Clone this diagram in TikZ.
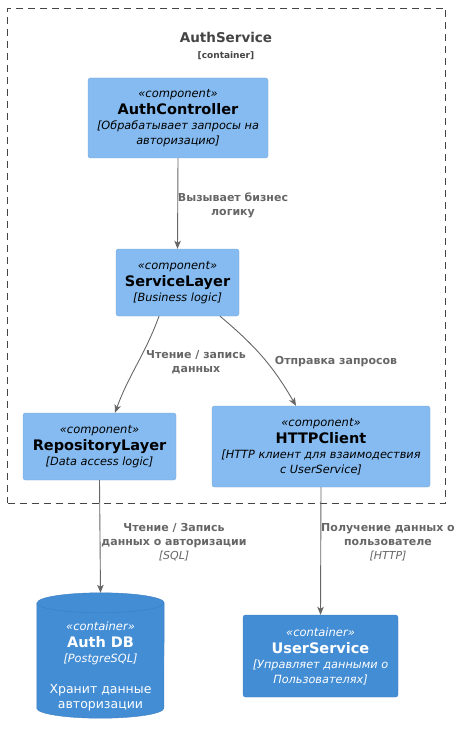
\documentclass[tikz,border=0pt]{standalone}
\usepackage{fontspec}
\setmainfont{DejaVu Sans}
\usetikzlibrary{arrows.meta}
\definecolor{compfill}{HTML}{85BBF0}
\definecolor{compborder}{HTML}{78A8D8}
\definecolor{contfill}{HTML}{438DD5}
\definecolor{contborder}{HTML}{3C7FC0}
\definecolor{relgray}{HTML}{666666}
\definecolor{boundgray}{HTML}{444444}

\newcommand{\stereo}[1]{{\fontsize{11.5}{14}\selectfont\itshape «#1»}}
\newcommand{\elname}[1]{{\fontsize{14.5}{17}\selectfont\bfseries #1}}
\newcommand{\eldesc}[1]{{\fontsize{11.3}{14}\selectfont\itshape #1}}

\begin{document}
\begin{tikzpicture}[x=1pt,y=1pt,
  component/.style={draw=compborder, fill=compfill, rounded corners=2.5pt, align=center, inner sep=0pt, font=\fontsize{11.3}{15}\selectfont},
  container/.style={draw=contborder, fill=contfill, text=white, rounded corners=2.5pt, align=center, inner sep=0pt, font=\fontsize{11.3}{15}\selectfont},
  boundary/.style={draw=boundgray, line width=0.9pt, dash pattern=on 7pt off 5pt, inner sep=0pt},
  rel/.style={draw=relgray, line width=0.9pt, -{Stealth[length=8pt,width=6.5pt,inset=2pt]}},
  rellabel/.style={text=relgray, align=center, font=\fontsize{11}{14}\selectfont\bfseries, inner sep=0pt}]
\useasboundingbox (0,0) rectangle (461,-735);

\node[boundary, minimum width=438, minimum height=495] (authsvc) at (226.5,-255.5) {};
\node[text=boundgray, align=center, inner sep=0pt, font=\fontsize{11}{16}\selectfont] (authsvctitle) at (226,-46)
  {{\fontsize{13.5}{16}\selectfont\bfseries AuthService}\\{\fontsize{9}{12}\selectfont\bfseries [container]}};

\node[component, minimum width=180, minimum height=80] (ctrl) at (178,-118)
  {\stereo{component}\\[2pt]\elname{AuthController}\\\eldesc{[Обрабатывает запросы на}\\\eldesc{авторизацию]}};
\node[component, minimum width=123, minimum height=67] (svc) at (177.5,-282.5)
  {\stereo{component}\\[2pt]\elname{ServiceLayer}\\\eldesc{[Business logic]}};
\node[component, minimum width=153, minimum height=67] (repo) at (99.5,-446.5)
  {\stereo{component}\\[2pt]\elname{RepositoryLayer}\\\eldesc{[Data access logic]}};
\node[component, minimum width=218, minimum height=81] (http) at (321,-446.5)
  {\stereo{component}\\[2pt]\elname{HTTPClient}\\\eldesc{[HTTP клиент для взаимодествия}\\\eldesc{с UserService]}};

\node[inner sep=0pt, minimum width=127, minimum height=125] (authdb) at (100.5,-655.5) {};
\path[draw=contborder, fill=contfill] ([yshift=-10pt]authdb.north west) -- ([yshift=10pt]authdb.south west)
  arc[start angle=180, end angle=360, x radius=63.5, y radius=10] -- ([yshift=-10pt]authdb.north east)
  arc[start angle=0, end angle=180, x radius=63.5, y radius=10] -- cycle;
\draw[contborder] ([yshift=-10pt]authdb.north west) arc[start angle=180, end angle=360, x radius=63.5, y radius=10];
\node[text=white, align=center, inner sep=0pt, font=\fontsize{11.3}{15}\selectfont] (authdbtext) at (100.5,-666)
  {\stereo{container}\\[2pt]\elname{Auth DB}\\\eldesc{[PostgreSQL]}\\[16pt]{\fontsize{12.5}{16}\selectfont Хранит данные}\\{\fontsize{12.5}{16}\selectfont авторизации}};
\node[container, minimum width=155, minimum height=82] (usersvc) at (320.5,-656)
  {\stereo{container}\\[2pt]\elname{UserService}\\\eldesc{[Управляет данными о}\\\eldesc{Пользователях]}};

\draw[rel] (ctrl.south) -- (svc.north);
\draw[rel] ([xshift=-18.5pt]svc.south) to[out=-110, in=70] ([xshift=15.5pt]repo.north);
\draw[rel] ([xshift=42.5pt]svc.south) to[out=-40, in=120] ([xshift=-25pt]http.north);
\draw[rel] (repo.south) -- (authdb.north);
\draw[rel] (http.south) -- (usersvc.north);

\node[rellabel] (lblcall) at (233,-205) {Вызывает бизнес\\логику};
\node[rellabel] (lblrw) at (196,-362) {Чтение / запись\\данных};
\node[rellabel] (lblsend) at (336,-362) {Отправка запросов};
\node[rellabel] (lblsql) at (174,-542) {Чтение / Запись\\данных о авторизации\\{\mdseries\itshape [SQL]}};
\node[rellabel] (lblhttp) at (388,-542) {Получение данных о\\пользователе\\{\mdseries\itshape [HTTP]}};
\end{tikzpicture}
\end{document}
